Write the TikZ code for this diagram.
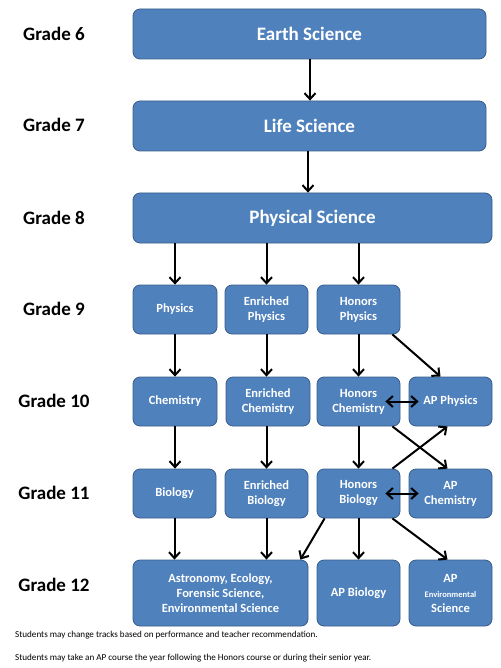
\documentclass[tikz,border=0pt]{standalone}
\usepackage{fontspec}
\setmainfont{Carlito}
\usetikzlibrary{arrows.meta}
\definecolor{boxfill}{HTML}{4F81BD}
\definecolor{boxline}{HTML}{385D8A}
\begin{document}
\begin{tikzpicture}[x=1pt,y=-1pt,
  box/.style={draw=boxline,line width=0.8pt,fill=boxfill,rounded corners=7pt,text=white,
    font=\bfseries\fontsize{12.5}{15}\selectfont,align=center,inner sep=0pt,minimum height=49pt},
  bigbox/.style={box,font=\bfseries\fontsize{19}{22}\selectfont,minimum height=50pt},
  grade/.style={font=\bfseries\fontsize{19}{22}\selectfont,anchor=center},
  note/.style={font=\fontsize{9.1}{10}\selectfont,anchor=west,inner sep=0pt},
  tip/.style={Straight Barb[length=6pt,width=11pt,line width=2pt]},
  arr/.style={line width=2pt,-{Straight Barb[length=6pt,width=11pt,line width=2pt]}},
  darr/.style={line width=2pt,{Straight Barb[length=6pt,width=11pt,line width=2pt]}-{Straight Barb[length=6pt,width=11pt,line width=2pt]}}]
\useasboundingbox (0,0) rectangle (500,668);
% grade labels
\node[grade] (g6) at (54,34) {Grade 6};
\node[grade] (g7) at (54,125) {Grade 7};
\node[grade] (g8) at (54,218) {Grade 8};
\node[grade] (g9) at (54,309) {Grade 9};
\node[grade] (g10) at (54,401) {Grade 10};
\node[grade] (g11) at (54,493) {Grade 11};
\node[grade] (g12) at (54,585) {Grade 12};
% big boxes
\node[bigbox,minimum width=353pt] (earth) at (309.5,34) {Earth Science};
\node[bigbox,minimum width=353pt] (life) at (309.5,126) {Life Science};
\node[bigbox,minimum width=359pt] (phys8) at (312.5,218) {Physical Science};
% grade 9
\node[box,minimum width=84pt] (physics) at (175,309.5) {Physics};
\node[box,minimum width=83pt] (enrphys) at (266.5,309.5) {Enriched\\Physics};
\node[box,minimum width=83pt] (honphys) at (358.5,309.5) {Honors\\Physics};
% grade 10
\node[box,minimum width=84pt] (chem) at (175,401.5) {Chemistry};
\node[box,minimum width=84pt] (enrchem) at (268,401.5) {Enriched\\Chemistry};
\node[box,minimum width=83pt] (honchem) at (358.5,401.5) {Honors\\Chemistry};
\node[box,minimum width=83pt] (apphys) at (450.5,401.5) {AP Physics};
% grade 11
\node[box,minimum width=83pt] (bio) at (174.5,493.5) {Biology};
\node[box,minimum width=83pt] (enrbio) at (266.5,493.5) {Enriched\\Biology};
\node[box,minimum width=83pt] (honbio) at (358.5,493.5) {Honors\\Biology};
\node[box,minimum width=83pt] (apchem) at (450.5,493.5) {AP\\Chemistry};
% grade 12
\node[box,minimum width=175pt,minimum height=66pt] (astro) at (220.5,593) {Astronomy, Ecology,\\Forensic Science,\\Environmental Science};
\node[box,minimum width=83pt,minimum height=66pt] (apbio) at (358.5,593) {AP Biology};
\node[box,minimum width=83pt,minimum height=66pt] (apenv) at (450.5,593) {AP\\{\fontsize{8.5}{12}\selectfont Environmental}\\Science};
% notes
\node[note] (n1) at (15,635) {Students may change tracks based on performance and teacher recommendation.};
\node[note] (n2) at (15,658) {Students may take an AP course the year following the Honors course or during their senior year.};
% arrows
\draw[arr] ([xshift=0.5pt]earth.south) -- ([xshift=0.5pt]life.north);
\draw[arr] ([xshift=-1.5pt]life.south) -- ([xshift=-4.5pt]phys8.north);
\draw[arr] (phys8.south -| physics) -- (physics.north);
\draw[arr] (phys8.south -| enrphys) -- (enrphys.north);
\draw[arr] (phys8.south -| honphys) -- (honphys.north);
\draw[arr] (physics) -- (chem);
\draw[arr] (enrphys.south) -- (enrphys.south |- enrchem.north);
\draw[arr] (honphys) -- (honchem);
\draw[arr] (chem) -- (chem.south |- bio.north);
\draw[arr] (enrchem.south -| enrbio) -- (enrbio.north);
\draw[arr] (honchem) -- (honbio);
\draw[arr] (bio.south) -- (bio.south |- astro.north);
\draw[arr] (enrbio.south) -- (enrbio.south |- astro.north);
\draw[arr] (honbio) -- (apbio);
\draw[arr] ([xshift=-8pt]honphys.south east) -- ([xshift=-10pt]apphys.north);
\draw[arr] ([xshift=-8pt]honchem.south east) -- ([xshift=-3pt]apchem.north);
\draw[arr] ([xshift=-8pt]honbio.north east) -- ([xshift=-3pt]apphys.south);
\draw[arr] ([xshift=-8pt]honbio.south east) -- ([xshift=-3pt]apenv.north);
\draw[arr] ([xshift=8pt]honbio.south west) -- ([xshift=-8pt]astro.north east);
\draw[darr] ([xshift=-15pt]honchem.east) -- ([xshift=10pt]apphys.west);
\draw[darr] ([xshift=-15pt]honbio.east) -- ([xshift=10pt]apchem.west);
\end{tikzpicture}
\end{document}
